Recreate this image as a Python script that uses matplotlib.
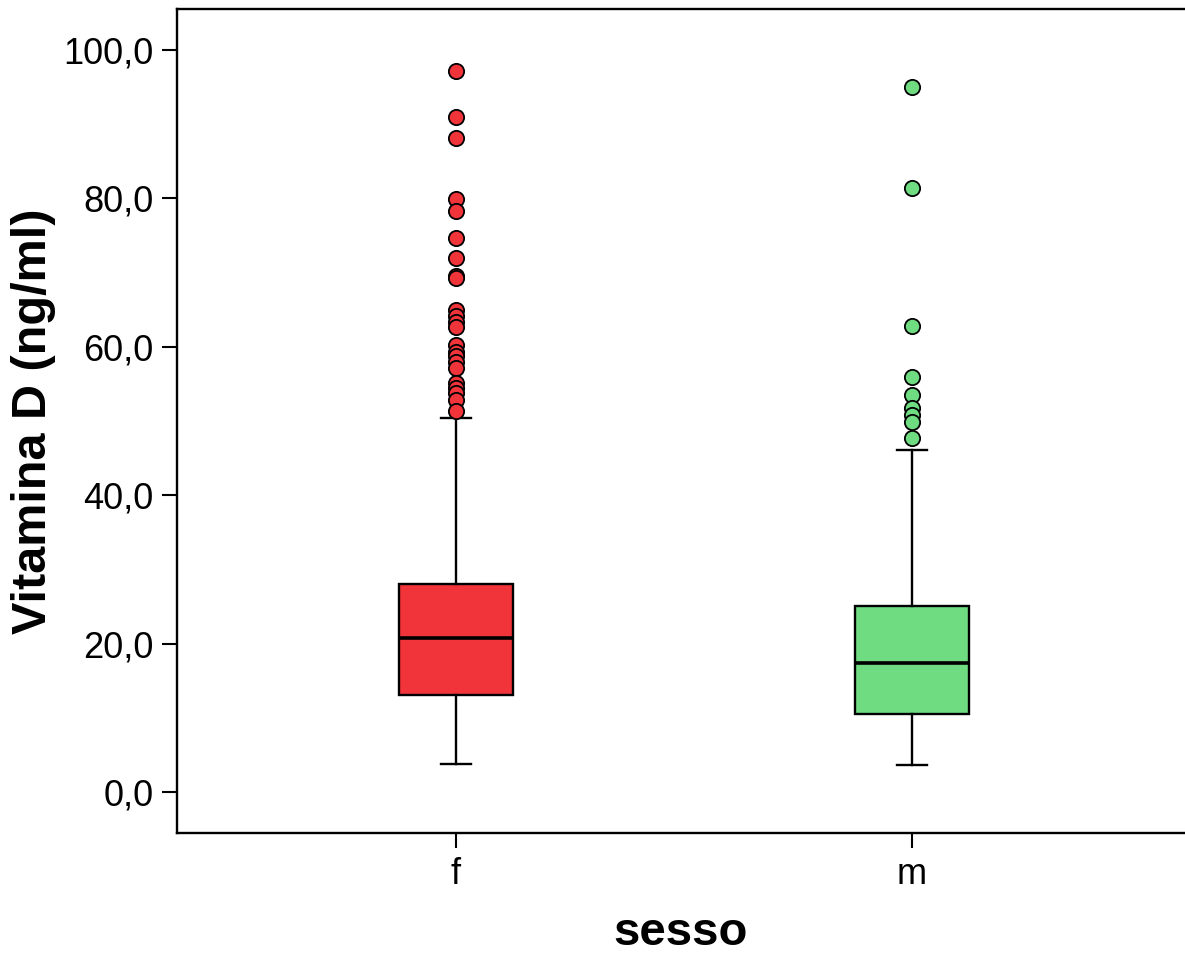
import matplotlib
matplotlib.use("Agg")
import matplotlib.pyplot as plt

plt.rcParams['font.family'] = ['Liberation Sans', 'DejaVu Sans']

# groups and box statistics
groups = ["f", "m"]
colors = ["#F0343A", "#6FDC82"]
q1 = [13.0, 10.5]
med = [20.7, 17.4]
q3 = [28.0, 25.1]
whislo = [3.8, 3.6]
whishi = [50.4, 46.1]
outliers_f = [97.2, 90.9, 88.1, 79.9, 78.3, 74.7, 71.9, 69.5, 69.3, 64.9, 64.1,
              63.4, 62.7, 60.2, 59.3, 58.7, 58.0, 57.1, 55.1, 54.4, 53.7, 52.8, 51.3]
outliers_m = [95.0, 81.4, 62.8, 55.9, 53.5, 51.7, 50.8, 49.9, 47.7]
outliers = [outliers_f, outliers_m]

yticks = [0, 20, 40, 60, 80, 100]
ytick_labels = ["0,0", "20,0", "40,0", "60,0", "80,0", "100,0"]

fig = plt.figure(figsize=(11.85, 9.57), dpi=100)
ax = fig.add_axes([0.1494, 0.1296, 0.8506, 0.8613])

stats = []
for i, g in enumerate(groups):
    stats.append(dict(label=g, q1=q1[i], med=med[i], q3=q3[i],
                      whislo=whislo[i], whishi=whishi[i], fliers=outliers[i]))

bp = ax.bxp(stats, positions=[0, 1], widths=0.25, patch_artist=True,
            showfliers=True, capwidths=0.065,
            boxprops=dict(linewidth=1.7, edgecolor="black"),
            medianprops=dict(color="black", linewidth=2.6),
            whiskerprops=dict(color="black", linewidth=1.7),
            capprops=dict(color="black", linewidth=1.7))

for patch, c in zip(bp["boxes"], colors):
    patch.set_facecolor(c)
for fl, c in zip(bp["fliers"], colors):
    fl.set(marker="o", markersize=11, markerfacecolor=c,
           markeredgecolor="black", markeredgewidth=1.3, linestyle="none")

ax.set_xlim(-0.612, 1.599)
ax.set_ylim(-5.53, 105.56)
ax.set_yticks(yticks)
ax.set_yticklabels(ytick_labels)
ax.set_xticks([0, 1])
ax.set_xticklabels(groups)

ax.spines["right"].set_visible(False)
for s in ["left", "top", "bottom"]:
    ax.spines[s].set_linewidth(1.7)
ax.tick_params(axis="both", length=11, width=1.5, labelsize=26, pad=6)

ax.set_xlabel("sesso", fontsize=34, fontweight="bold", labelpad=14)
ax.set_ylabel("Vitamina D (ng/ml)", fontsize=35, fontweight="bold", labelpad=0)
ax.yaxis.set_label_coords(-0.12, 0.5)

plt.savefig("out.png", dpi=100)
